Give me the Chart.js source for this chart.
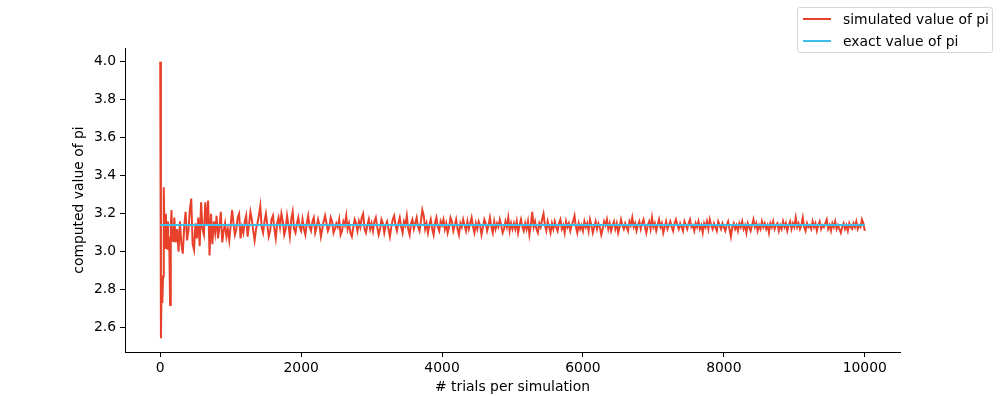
<!DOCTYPE html>
<html>
<head>
<meta charset="utf-8">
<script src="https://cdn.jsdelivr.net/npm/chart.js@4.4.1/dist/chart.umd.min.js"></script>
<style>
  body { margin: 0; background: #fff; }
  #wrap { position: relative; width: 1000px; height: 396px; }
  #legend {
    position: absolute; left: 797px; top: 7px; width: 194px; height: 44px;
    border: 1px solid #d6d6d6; border-radius: 3px; background: rgba(255,255,255,0.8);
    font-family: 'DejaVu Sans', sans-serif; font-size: 13.9px; color: #000;
  }
  .item { position: absolute; left: 5px; height: 16px; line-height: 16px; white-space: nowrap; }
  .item span.swatch { position: absolute; left: 0; top: 7px; width: 28px; height: 2px; }
  .item span.label { position: absolute; left: 40px; top: 0; }
</style>
</head>
<body>
<div id="wrap">
  <canvas id="pi-chart" width="1000" height="396"></canvas>
  <div id="legend">
    <div class="item" style="top:3px"><span class="swatch" style="background:#e8412b"></span><span class="label">simulated value of pi</span></div>
    <div class="item" style="top:25px"><span class="swatch" style="background:#3fbde6"></span><span class="label">exact value of pi</span></div>
  </div>
</div>
<script>
// trials per simulation (x) and simulated pi (y)
let trials = [
  0, 10, 20, 30, 40, 50, 60, 70, 80, 90, 100, 110, 120, 130, 140, 150, 160, 170, 180, 190, 200,
  220, 240, 260, 280, 300, 320, 340, 360, 380, 400,
  420, 440, 460, 480, 500, 520, 540, 560, 580, 600,
  620, 640, 660, 680, 700, 720, 740, 760, 780, 800,
  820, 840, 860, 880, 900, 920, 940, 960, 980, 1000,
  1020, 1040, 1060, 1080, 1100, 1120, 1140, 1160, 1180, 1200,
  1220, 1240, 1260, 1280, 1300, 1320, 1340, 1360, 1380, 1400,
  1420, 1440, 1460, 1480, 1500, 1520, 1540, 1560, 1580, 1600,
  1620, 1640, 1660, 1680, 1700, 1720, 1740, 1760, 1780, 1800,
  1820, 1840, 1860, 1880, 1900, 1920, 1940, 1960, 1980, 2000,
  2020, 2040, 2060, 2080, 2100, 2120, 2140, 2160, 2180, 2200,
  2220, 2240, 2260, 2280, 2300, 2320, 2340, 2360, 2380, 2400,
  2420, 2440, 2460, 2480, 2500, 2520, 2540, 2560, 2580, 2600,
  2620, 2640, 2660, 2680, 2700, 2720, 2740, 2760, 2780, 2800,
  2820, 2840, 2860, 2880, 2900, 2920, 2940, 2960, 2980, 3000,
  3020, 3040, 3060, 3080, 3100, 3120, 3140, 3160, 3180, 3200,
  3220, 3240, 3260, 3280, 3300, 3320, 3340, 3360, 3380, 3400,
  3420, 3440, 3460, 3480, 3500, 3520, 3540, 3560, 3580, 3600,
  3620, 3640, 3660, 3680, 3700, 3720, 3740, 3760, 3780, 3800,
  3820, 3840, 3860, 3880, 3900, 3920, 3940, 3960, 3980, 4000,
  4020, 4040, 4060, 4080, 4100, 4120, 4140, 4160, 4180, 4200,
  4220, 4240, 4260, 4280, 4300, 4320, 4340, 4360, 4380, 4400,
  4420, 4440, 4460, 4480, 4500, 4520, 4540, 4560, 4580, 4600,
  4620, 4640, 4660, 4680, 4700, 4720, 4740, 4760, 4780, 4800,
  4820, 4840, 4860, 4880, 4900, 4920, 4940, 4960, 4980, 5000,
  5020, 5040, 5060, 5080, 5100, 5120, 5140, 5160, 5180, 5200,
  5220, 5240, 5260, 5280, 5300, 5320, 5340, 5360, 5380, 5400,
  5420, 5440, 5460, 5480, 5500, 5520, 5540, 5560, 5580, 5600,
  5620, 5640, 5660, 5680, 5700, 5720, 5740, 5760, 5780, 5800,
  5820, 5840, 5860, 5880, 5900, 5920, 5940, 5960, 5980, 6000,
  6020, 6040, 6060, 6080, 6100, 6120, 6140, 6160, 6180, 6200,
  6220, 6240, 6260, 6280, 6300, 6320, 6340, 6360, 6380, 6400,
  6420, 6440, 6460, 6480, 6500, 6520, 6540, 6560, 6580, 6600,
  6620, 6640, 6660, 6680, 6700, 6720, 6740, 6760, 6780, 6800,
  6820, 6840, 6860, 6880, 6900, 6920, 6940, 6960, 6980, 7000,
  7020, 7040, 7060, 7080, 7100, 7120, 7140, 7160, 7180, 7200,
  7220, 7240, 7260, 7280, 7300, 7320, 7340, 7360, 7380, 7400,
  7420, 7440, 7460, 7480, 7500, 7520, 7540, 7560, 7580, 7600,
  7620, 7640, 7660, 7680, 7700, 7720, 7740, 7760, 7780, 7800,
  7820, 7840, 7860, 7880, 7900, 7920, 7940, 7960, 7980, 8000,
  8020, 8040, 8060, 8080, 8100, 8120, 8140, 8160, 8180, 8200,
  8220, 8240, 8260, 8280, 8300, 8320, 8340, 8360, 8380, 8400,
  8420, 8440, 8460, 8480, 8500, 8520, 8540, 8560, 8580, 8600,
  8620, 8640, 8660, 8680, 8700, 8720, 8740, 8760, 8780, 8800,
  8820, 8840, 8860, 8880, 8900, 8920, 8940, 8960, 8980, 9000,
  9020, 9040, 9060, 9080, 9100, 9120, 9140, 9160, 9180, 9200,
  9220, 9240, 9260, 9280, 9300, 9320, 9340, 9360, 9380, 9400,
  9420, 9440, 9460, 9480, 9500, 9520, 9540, 9560, 9580, 9600,
  9620, 9640, 9660, 9680, 9700, 9720, 9740, 9760, 9780, 9800,
  9820, 9840, 9860, 9880, 9900, 9920, 9940, 9960, 9980, 10000
];

let simulated = [
  4.0, 2.545, 2.86, 2.73, 2.87, 3.34, 3.12, 3.02, 3.20, 3.04, 3.16, 3.01, 3.08, 3.00, 2.72, 3.14, 3.22, 3.06, 3.10, 3.05, 3.18,
  3.05, 3.12, 3.00, 3.16, 3.04, 2.99, 3.13, 3.21, 3.06, 3.11,
  3.22, 3.28, 3.04, 3.01, 3.15, 3.07, 3.18, 3.03, 3.26, 3.12,
  3.09, 3.26, 3.14, 3.27, 2.98, 3.20, 3.04, 3.16, 3.10, 3.19,
  3.07, 3.13, 3.21, 3.05, 3.11, 3.15, 3.08, 3.12, 3.06, 3.14,
  3.22, 3.15, 3.09, 3.12, 3.18, 3.20, 3.07, 3.13, 3.10, 3.16,
  3.19, 3.08, 3.14, 3.21, 3.17, 3.11, 3.06, 3.12, 3.15, 3.19,
  3.24, 3.13, 3.10, 3.16, 3.20, 3.14, 3.08, 3.11, 3.17, 3.19,
  3.12, 3.07, 3.15, 3.18, 3.13, 3.20, 3.16, 3.09, 3.12, 3.19,
  3.14, 3.08, 3.17, 3.21, 3.12, 3.10, 3.15, 3.18, 3.13, 3.11,
  3.17, 3.12, 3.09, 3.15, 3.19, 3.13, 3.11, 3.16, 3.18, 3.10,
  3.13, 3.17, 3.14, 3.08, 3.12, 3.16, 3.19, 3.15, 3.11, 3.13,
  3.18, 3.16, 3.10, 3.12, 3.15, 3.13, 3.17, 3.09, 3.11, 3.16,
  3.14, 3.19, 3.12, 3.15, 3.10, 3.08, 3.13, 3.17, 3.15, 3.11,
  3.16, 3.13, 3.18, 3.20, 3.12, 3.10, 3.14, 3.17, 3.12, 3.15,
  3.11, 3.16, 3.18, 3.13, 3.09, 3.12, 3.17, 3.15, 3.10, 3.14,
  3.16, 3.12, 3.08, 3.13, 3.17, 3.19, 3.14, 3.11, 3.15, 3.18,
  3.13, 3.10, 3.16, 3.14, 3.19, 3.12, 3.09, 3.15, 3.17, 3.12,
  3.15, 3.18, 3.13, 3.11, 3.16, 3.22, 3.19, 3.12, 3.15, 3.10,
  3.14, 3.17, 3.12, 3.09, 3.15, 3.18, 3.13, 3.11, 3.16, 3.14,
  3.17, 3.12, 3.15, 3.10, 3.13, 3.18, 3.16, 3.11, 3.14, 3.17,
  3.12, 3.09, 3.15, 3.13, 3.17, 3.14, 3.11, 3.16, 3.12, 3.15,
  3.18, 3.13, 3.10, 3.15, 3.12, 3.16, 3.14, 3.09, 3.13, 3.17,
  3.15, 3.11, 3.14, 3.18, 3.13, 3.10, 3.16, 3.12, 3.15, 3.13,
  3.17, 3.14, 3.10, 3.12, 3.16, 3.13, 3.18, 3.11, 3.15, 3.12,
  3.15, 3.12, 3.16, 3.10, 3.14, 3.17, 3.13, 3.11, 3.15, 3.12,
  3.16, 3.09, 3.14, 3.21, 3.13, 3.16, 3.12, 3.10, 3.15, 3.13,
  3.17, 3.20, 3.14, 3.11, 3.16, 3.13, 3.10, 3.15, 3.12, 3.16,
  3.13, 3.11, 3.15, 3.17, 3.12, 3.14, 3.10, 3.16, 3.13, 3.15,
  3.11, 3.14, 3.16, 3.19, 3.13, 3.10, 3.15, 3.12, 3.14, 3.11,
  3.16, 3.13, 3.15, 3.11, 3.17, 3.14, 3.10, 3.13, 3.16, 3.12,
  3.15, 3.13, 3.09, 3.12, 3.16, 3.14, 3.17, 3.12, 3.15, 3.11,
  3.14, 3.16, 3.12, 3.15, 3.10, 3.13, 3.17, 3.14, 3.12, 3.15,
  3.13, 3.11, 3.16, 3.14, 3.18, 3.13, 3.15, 3.11, 3.14, 3.16,
  3.12, 3.15, 3.17, 3.13, 3.10, 3.14, 3.16, 3.12, 3.18, 3.13,
  3.15, 3.11, 3.14, 3.17, 3.13, 3.15, 3.10, 3.13, 3.16, 3.12,
  3.14, 3.16, 3.13, 3.11, 3.15, 3.17, 3.14, 3.12, 3.15, 3.13,
  3.11, 3.16, 3.14, 3.12, 3.15, 3.17, 3.13, 3.14, 3.11, 3.15,
  3.13, 3.16, 3.12, 3.14, 3.10, 3.15, 3.13, 3.16, 3.12, 3.17,
  3.14, 3.12, 3.15, 3.13, 3.11, 3.16, 3.14, 3.12, 3.15, 3.13,
  3.11, 3.14, 3.16, 3.12, 3.08, 3.13, 3.15, 3.12, 3.14, 3.11,
  3.15, 3.13, 3.16, 3.12, 3.14, 3.10, 3.15, 3.13, 3.11, 3.14,
  3.17, 3.13, 3.15, 3.11, 3.14, 3.12, 3.16, 3.13, 3.15, 3.12,
  3.14, 3.10, 3.15, 3.13, 3.16, 3.12, 3.14, 3.15, 3.11, 3.14,
  3.12, 3.16, 3.13, 3.15, 3.11, 3.14, 3.16, 3.12, 3.15, 3.13,
  3.18, 3.13, 3.15, 3.12, 3.14, 3.18, 3.13, 3.11, 3.15, 3.13,
  3.14, 3.12, 3.16, 3.13, 3.15, 3.11, 3.14, 3.16, 3.12, 3.14,
  3.13, 3.15, 3.17, 3.12, 3.14, 3.11, 3.15, 3.13, 3.16, 3.12,
  3.14, 3.12, 3.10, 3.13, 3.15, 3.12, 3.14, 3.11, 3.15, 3.13,
  3.12, 3.15, 3.13, 3.16, 3.12, 3.14, 3.13, 3.17, 3.15, 3.11
];

let exactTrials = [0, 10000];
let exactPi = [3.141592653589793, 3.141592653589793];

let xTicks = [0, 2000, 4000, 6000, 8000, 10000];
let yTicks = [2.6, 2.8, 3.0, 3.2, 3.4, 3.6, 3.8, 4.0];

const font = { family: 'DejaVu Sans', size: 13.9 };

let ctx = document.getElementById('pi-chart').getContext('2d');

let piChart = new Chart(ctx, {
  type: 'line',
  data: {
    datasets: [{
      // drawn on top of the simulated line
      label: 'exact value of pi',
      data: exactTrials.map((t, i) => ({ x: t, y: exactPi[i] })),
      borderColor: '#3fbde6',
      borderWidth: 2,
      pointRadius: 0
    }, {
      label: 'simulated value of pi',
      data: trials.map((t, i) => ({ x: t, y: simulated[i] })),
      borderColor: '#e8412b',
      borderWidth: 2,
      pointRadius: 0,
      tension: 0
    }]
  },
  options: {
    responsive: false,
    animation: false,
    layout: { padding: { top: 48, right: 100, bottom: 0, left: 0 } },
    plugins: {
      legend: { display: false },
      tooltip: { enabled: false }
    },
    scales: {
      x: {
        type: 'linear',
        min: -500,
        max: 10500,
        afterBuildTicks: (scale) => { scale.ticks = xTicks.map(v => ({ value: v })); },
        afterFit: (scale) => { scale.height = 44; },
        grid: { drawOnChartArea: false, drawTicks: true, tickLength: 5, color: '#000', lineWidth: 1 },
        border: { display: true, color: '#000', width: 1 },
        ticks: { color: '#000', font: font, padding: 3, maxRotation: 0, callback: (v) => String(v) },
        title: { display: true, text: '# trials per simulation', color: '#000', font: font, padding: 0 }
      },
      y: {
        type: 'linear',
        min: 2.4725,
        max: 4.0727,
        afterBuildTicks: (scale) => { scale.ticks = yTicks.map(v => ({ value: v })); },
        afterFit: (scale) => { scale.width = 125; },
        grid: { drawOnChartArea: false, drawTicks: true, tickLength: 5, color: '#000', lineWidth: 1 },
        border: { display: true, color: '#000', width: 1 },
        ticks: { color: '#000', font: font, padding: 4, callback: (v) => v.toFixed(1) },
        title: { display: true, text: 'computed value of pi', color: '#000', font: font, padding: { top: 71 } }
      }
    }
  }
});
</script>
</body>
</html>
